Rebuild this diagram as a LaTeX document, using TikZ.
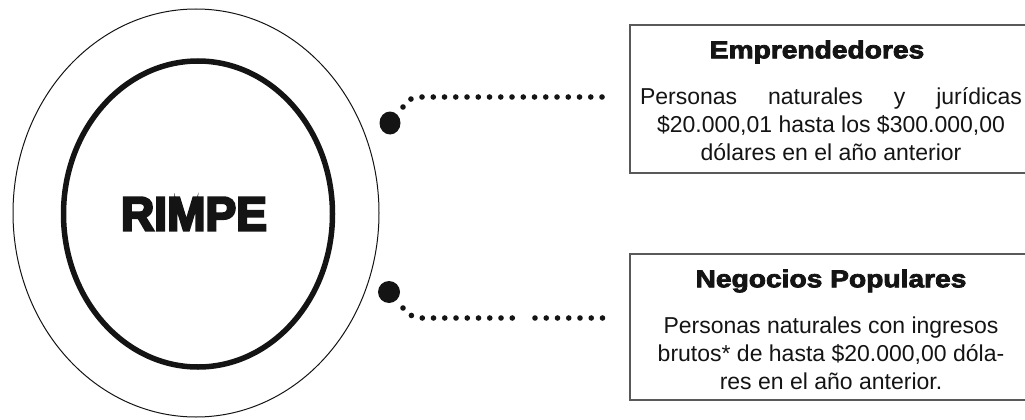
\documentclass[tikz,border=0pt]{standalone}
\usepackage{graphicx}
\usepackage{fontspec}
\usetikzlibrary{shapes.geometric}
\setmainfont{Liberation Sans}
\newfontfamily\heavyfont[FakeBold=3]{Liberation Sans}
\newfontfamily\blackfont[FakeBold=5]{Liberation Sans}
\definecolor{boxgray}{gray}{0.35}
\definecolor{ink}{gray}{0.08}
\tikzset{
  bigdot/.style={ellipse, fill=ink, inner sep=0pt},
  dotline/.style={draw=ink, line width=5.6pt, line cap=round, dash pattern=on 0pt off 11.25pt},
  infobox/.style={draw=boxgray, line width=2pt, rectangle, minimum width=400pt, inner sep=0pt},
  titletext/.style={font={\heavyfont\bfseries\fontsize{24.5}{28}\selectfont}, text=ink, inner sep=0pt},
  bodytext/.style={font={\fontsize{23}{28}\selectfont}, text=ink, align=center, inner sep=0pt}
}
\begin{document}
\begin{tikzpicture}[x=1pt,y=-1pt]
\useasboundingbox (0,0) rectangle (1025,420);
\clip (0,0) rectangle (1025,420);
% circles
\draw[ink, line width=1pt] (196,213) ellipse [x radius=183, y radius=204];
\draw[ink, line width=5.5pt] (198,214) ellipse [x radius=134.5, y radius=153];
\node[font={\blackfont\bfseries\fontsize{48}{50}\selectfont}, text=ink, inner sep=0pt] (rimpe) at (194,214) {\scalebox{0.96}[1]{RIMPE}};
% boxes
\node[infobox, minimum height=148pt] (boxA) at (830,99) {};
\node[infobox, minimum height=146pt] (boxB) at (830,327) {};
% texts
\node[titletext] (titA) at (817,52) {\scalebox{1.15}[1]{Emprendedores}};
\node[bodytext] (bodyA) at (831,124) {\makebox[382pt][s]{Personas naturales y jurídicas}\\\$20.000,01 hasta los \$300.000,00\\dólares en el año anterior};
\node[titletext] (titB) at (831,281) {\scalebox{1.15}[1]{Negocios Populares}};
\node[bodytext] (bodyB) at (831,353) {Personas naturales con ingresos\\brutos* de hasta \$20.000,00 dóla-\\res en el año anterior.};
% dots and connectors
\node[bigdot, minimum width=21pt, minimum height=23pt] (dotA) at (390,123) {};
\node[bigdot, minimum width=22pt, minimum height=22pt] (dotB) at (389,292) {};
\coordinate (a1) at (403,107);
\coordinate (a2) at (411,99);
\coordinate (a3) at (422,97);
\coordinate (a4) at (613,97);
\draw[dotline] (a1) -- (a2) -- (a3) -- (a4);
\coordinate (b1) at (403,308);
\coordinate (b2) at (412,316);
\coordinate (b3) at (422,318);
\coordinate (b4) at (513,318);
\coordinate (b5) at (535,318);
\coordinate (b6) at (613,318);
\draw[dotline] (b1) -- (b2) -- (b3) -- (b4);
\draw[dotline] (b5) -- (b6);
\end{tikzpicture}
\end{document}
